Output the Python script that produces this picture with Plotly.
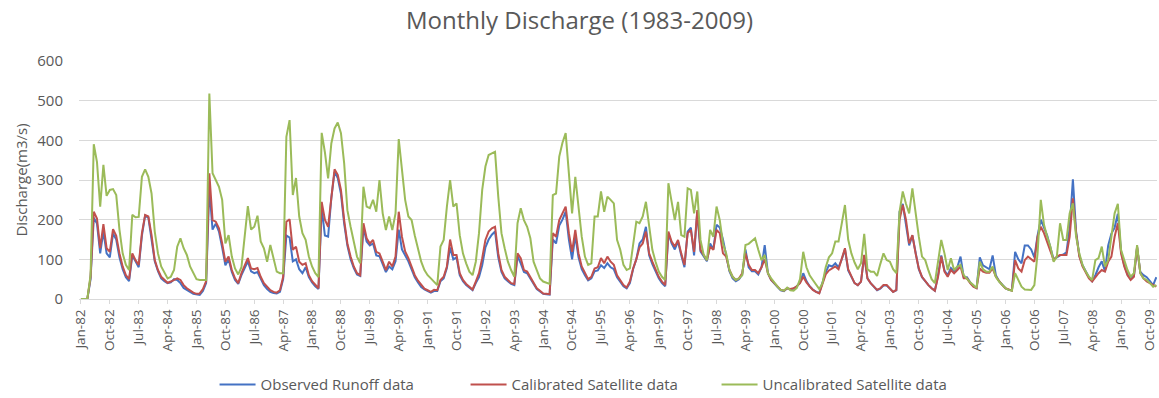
import plotly.graph_objects as go
import pandas as pd

# Month categories Jan-1982 .. Dec-2009
months = pd.date_range("1982-01-01", "2009-12-01", freq="MS")
month_labels = [d.strftime("%b-%y") for d in months]

observed = [
    0,0,0,50,205,190,115,170,115,105,165,150,
    105,75,55,45,110,95,80,160,210,205,155,95,
    70,52,45,40,42,50,48,40,28,22,18,13,
    12,10,20,40,280,175,190,170,130,85,100,68,
    48,38,60,80,95,70,65,68,50,35,25,18,
    15,14,18,50,160,155,95,100,75,65,80,55,
    42,32,25,230,160,157,255,320,305,265,190,135,
    100,78,62,58,180,145,135,140,110,108,88,68,
    82,75,95,175,125,110,95,75,55,42,30,24,
    20,16,20,20,45,52,78,130,100,105,60,45,
    35,28,22,40,55,85,130,150,162,170,105,68,
    52,45,38,35,108,90,68,65,52,38,25,19,
    13,12,11,150,140,185,200,220,150,100,160,105,
    75,60,47,52,70,72,85,78,90,80,75,55,
    42,32,27,40,75,100,140,150,182,110,88,68,
    52,40,32,165,140,125,145,110,80,170,180,110,
    220,120,108,95,140,125,187,180,150,105,70,52,
    45,50,62,125,80,70,70,62,80,136,65,48,
    38,30,22,20,27,24,26,32,42,65,45,32,
    24,18,15,40,68,85,82,90,80,100,125,72,
    55,40,35,44,110,52,40,30,22,26,34,34,
    26,18,22,220,240,190,135,160,112,75,55,44,
    35,27,21,60,110,72,60,78,70,80,107,55,
    55,42,32,28,105,85,80,75,110,60,45,35,
    27,23,22,119,100,90,135,135,125,105,160,200,
    180,160,130,100,105,110,112,118,180,302,170,110,
    85,68,55,45,60,80,95,70,135,165,180,215,
    120,85,62,50,58,130,68,60,55,45,35,55,
]

calibrated = [
    0,0,0,55,220,203,128,189,128,119,176,159,
    115,82,60,50,115,98,86,166,212,208,161,98,
    73,56,48,41,44,48,52,48,35,27,21,16,
    13,14,25,45,317,199,195,178,140,94,107,73,
    52,40,65,85,103,77,75,78,56,40,30,22,
    18,16,22,56,195,201,124,132,94,86,90,60,
    45,35,27,245,200,182,260,327,313,275,199,140,
    107,82,65,60,191,153,140,149,119,115,94,73,
    94,82,107,220,157,120,103,82,60,46,35,26,
    22,18,23,22,48,56,82,150,111,111,65,48,
    38,31,24,44,65,103,149,170,178,182,115,73,
    56,48,40,38,115,103,73,69,56,40,27,21,
    14,13,12,166,157,199,216,233,166,119,174,115,
    82,65,50,56,77,80,103,90,107,94,86,60,
    48,35,29,44,77,100,130,140,170,115,94,73,
    56,44,35,170,145,132,149,115,86,166,174,119,
    224,124,111,98,132,124,174,166,115,107,73,56,
    48,52,65,115,86,73,73,65,80,100,65,48,
    40,31,23,21,27,25,27,32,40,56,42,32,
    23,18,14,38,62,72,77,82,75,100,128,75,
    56,40,35,44,111,52,40,31,23,27,35,35,
    27,18,23,200,237,200,140,161,115,77,56,44,
    35,27,21,56,107,69,56,73,65,73,82,52,
    52,40,31,27,77,69,66,66,77,56,44,35,
    27,23,21,98,77,69,98,107,100,94,157,182,
    166,145,124,98,107,111,111,111,157,254,166,107,
    82,65,52,44,56,65,73,69,94,107,157,191,
    115,82,60,48,56,132,65,52,44,40,35,31,
]

uncalibrated = [
    0,0,0,60,390,345,233,338,260,275,277,262,
    175,115,86,73,212,206,207,308,327,308,266,170,
    115,82,65,52,56,73,132,153,128,111,82,65,
    50,48,48,48,518,317,300,283,250,140,161,107,
    77,62,80,160,234,175,182,210,145,128,94,136,
    98,69,65,65,409,451,262,305,208,166,149,107,
    82,65,55,419,370,304,392,430,445,418,342,224,
    182,140,107,90,283,233,229,250,220,300,216,174,
    208,174,216,403,325,250,208,199,160,128,94,73,
    60,52,44,35,132,149,233,300,233,241,161,115,
    90,69,60,94,166,275,334,363,367,371,258,166,
    128,94,73,56,191,229,199,182,153,94,73,52,
    44,40,38,262,266,359,394,418,308,216,308,233,
    157,107,86,90,208,208,271,220,258,250,241,149,
    124,86,73,77,132,195,191,208,245,182,124,94,
    69,56,48,292,241,199,245,161,157,279,275,216,
    271,149,111,98,174,157,233,199,140,115,73,56,
    48,52,60,136,139,145,153,124,98,111,65,52,
    40,31,23,21,29,22,21,28,50,119,80,60,
    48,35,25,40,80,105,115,145,145,190,237,150,
    115,92,75,90,164,75,69,69,58,88,115,98,
    94,75,65,220,271,240,216,279,210,157,107,98,
    72,50,40,90,149,115,73,103,73,82,86,60,
    50,42,35,28,94,75,69,69,82,56,44,35,
    27,23,21,65,48,31,24,23,23,35,115,250,
    187,157,132,94,107,191,149,149,216,241,157,115,
    86,69,56,48,98,103,132,82,98,157,216,240,
    124,98,73,56,65,136,65,52,48,40,31,35,
]

y_ticks = [0, 100, 200, 300, 400, 500, 600]
x_idx = list(range(len(month_labels)))
tick_idx = x_idx[::9]
tick_text = [month_labels[i] for i in tick_idx]

FONT = "Open Sans"
TXT = "#595959"

fig = go.Figure()
series = [
    ("Observed Runoff data", observed, "#4472C4"),
    ("Calibrated Satellite data", calibrated, "#C0504D"),
    ("Uncalibrated Satellite data", uncalibrated, "#9BBB59"),
]
for name, vals, col in series:
    fig.add_trace(go.Scatter(
        x=x_idx, y=vals, mode="lines", name=name,
        line=dict(color=col, width=2),
        text=month_labels, hovertemplate="%{text}: %{y}<extra>" + name + "</extra>",
    ))

fig.update_layout(
    width=1159, height=398,
    margin=dict(l=79, r=2, t=61, b=99, autoexpand=False),
    paper_bgcolor="white", plot_bgcolor="white",
    font=dict(family=FONT, color=TXT, size=14),
    title=dict(text="Monthly Discharge (1983-2009)", x=0.5, xref="container",
               y=1 - 21 / 398, yref="container", yanchor="middle",
               xanchor="center", font=dict(size=24, color=TXT, family=FONT)),
    showlegend=True,
    legend=dict(orientation="h", x=0.475, xanchor="center", y=-0.36, yanchor="middle",
                font=dict(size=15, color=TXT, family=FONT), itemwidth=36,
                entrywidth=200, entrywidthmode="pixels",
                traceorder="normal"),
    xaxis=dict(
        range=[-0.6, 335.2], tickmode="array", tickvals=tick_idx, ticktext=tick_text,
        tickangle=-90, tickfont=dict(size=13.5, color=TXT), showgrid=False,
        showline=True, linecolor="#D9D9D9", linewidth=1, automargin=False,
        ticks="outside", ticklen=4, tickcolor="#D9D9D9", zeroline=False,
    ),
    yaxis=dict(
        range=[0, 600], tickmode="array", tickvals=y_ticks, automargin=False,
        tickfont=dict(size=15, color=TXT), showgrid=True, gridcolor="#D9D9D9",
        gridwidth=1, zeroline=False, ticks="outside", ticklen=12,
        tickcolor="rgba(0,0,0,0)",
        title=dict(text="Discharge(m3/s)", font=dict(size=15, color=TXT), standoff=6),
    ),
)

fig.write_html("out.html")
